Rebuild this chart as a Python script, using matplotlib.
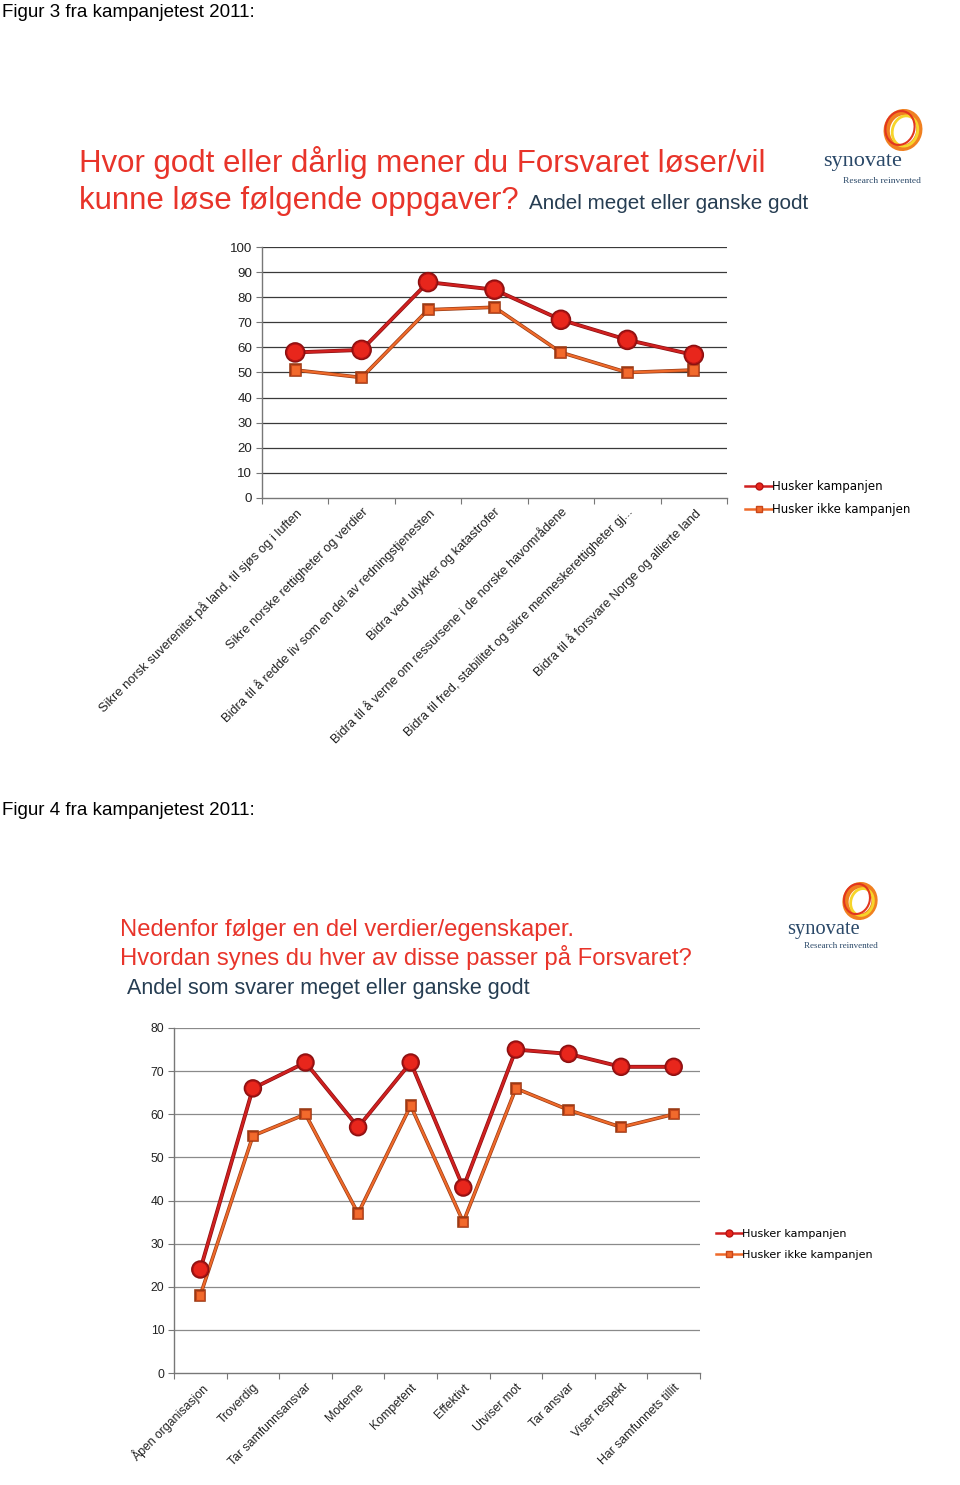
import matplotlib
matplotlib.use("Agg")
import matplotlib.pyplot as plt
from matplotlib.lines import Line2D
from matplotlib.patches import Ellipse
import matplotlib.patheffects as pe
import numpy as np

plt.rcParams['font.family'] = ['Liberation Sans', 'DejaVu Sans']

# ---------------- data ----------------
cats1 = [
    "Sikre norsk suverenitet på land, til sjøs og i luften",
    "Sikre norske rettigheter og verdier",
    "Bidra til å redde liv som en del av redningstjenesten",
    "Bidra ved ulykker og katastrofer",
    "Bidra til å verne om ressursene i de norske havområdene",
    "Bidra til fred, stabilitet og sikre menneskerettigheter gj...",
    "Bidra til å forsvare Norge og allierte land",
]
husker1 = [58, 59, 86, 83, 71, 63, 57]
ikke1 = [51, 48, 75, 76, 58, 50, 51]
yticks1 = [0, 10, 20, 30, 40, 50, 60, 70, 80, 90, 100]

cats2 = ["Åpen organisasjon", "Troverdig", "Tar samfunnsansvar", "Moderne",
         "Kompetent", "Effektivt", "Utviser mot", "Tar ansvar",
         "Viser respekt", "Har samfunnets tillit"]
husker2 = [24, 66, 72, 57, 72, 43, 75, 74, 71, 71]
ikke2 = [18, 55, 60, 37, 62, 35, 66, 61, 57, 60]
yticks2 = [0, 10, 20, 30, 40, 50, 60, 70, 80]

series_names = ["Husker kampanjen", "Husker ikke kampanjen"]

# ---------------- style ----------------
RED_FILL = '#e8261c'
RED_EDGE = '#b81414'
RED_LINE = '#d02020'
RED_LINE_EDGE = '#8a1010'
OR_FILL = '#f26a2c'
OR_EDGE = '#c8461a'
OR_LINE = '#ef6a2a'
OR_LINE_EDGE = '#9a3a14'
TITLE_RED = '#e8342a'
SUB_BLUE = '#263d52'

W, H = 960, 1485
fig = plt.figure(figsize=(W / 100, H / 100), dpi=100)
fig.patch.set_facecolor('white')


def fx(px):
    return px / W


def fy(py):
    return 1 - py / H


def make_axes(left, top, right, bottom):
    return fig.add_axes([fx(left), fy(bottom), fx(right) - fx(left), fy(top) - fy(bottom)])


def draw_chart(ax, cats, h, k, yticks, grid_color, ms_c, ms_s, lab_fs, ytick_fs):
    x = np.arange(len(cats))
    ax.plot(x, k, color=OR_LINE, lw=1.6, marker='s', ms=ms_s, mfc=OR_FILL, mec=OR_EDGE,
            mew=0.8, zorder=3,
            path_effects=[pe.Stroke(linewidth=2.6, foreground=OR_LINE_EDGE), pe.Normal()])
    ax.plot(x, h, color=RED_LINE, lw=1.8, marker='o', ms=ms_c, mfc=RED_FILL, mec=RED_EDGE,
            mew=0.8, zorder=4,
            path_effects=[pe.Stroke(linewidth=2.8, foreground=RED_LINE_EDGE), pe.Normal()])
    ax.set_xlim(-0.5, len(cats) - 0.5)
    ax.set_ylim(yticks[0], yticks[-1])
    ax.set_yticks(yticks)
    ax.set_yticklabels([str(v) for v in yticks], fontsize=ytick_fs, color='#222222')
    for v in yticks[1:]:
        ax.axhline(v, color=grid_color, lw=0.9, zorder=1)
    ax.set_xticks(x)
    ax.set_xticklabels(cats, rotation=45, ha='right', rotation_mode='anchor',
                       fontsize=lab_fs, color='#222222')
    ax.set_xticks(np.arange(len(cats) + 1) - 0.5, minor=True)
    ax.tick_params(axis='x', which='major', length=0, pad=6)
    ax.tick_params(axis='x', which='minor', length=4, color='#777777', width=0.8)
    ax.tick_params(axis='y', length=4, color='#777777', width=0.8, pad=3)
    for s in ['top', 'right']:
        ax.spines[s].set_visible(False)
    for s in ['left', 'bottom']:
        ax.spines[s].set_color('#777777')
        ax.spines[s].set_linewidth(1.0)
    ax.set_facecolor('none')


def legend(x_px, y_px, fs, spacing):
    handles = [
        Line2D([], [], color=RED_LINE, lw=1.8, marker='o', ms=5, mfc=RED_FILL, mec=RED_EDGE),
        Line2D([], [], color=OR_LINE, lw=1.8, marker='s', ms=5, mfc=OR_FILL, mec=OR_EDGE),
    ]
    fig.legend(handles, series_names, loc='upper left', bbox_to_anchor=(fx(x_px), fy(y_px)),
               frameon=False, handlelength=2.3, handletextpad=0.0,
               labelspacing=spacing, borderaxespad=0, borderpad=0,
               prop={'family': 'DejaVu Sans', 'size': fs})


def logo(cx, cy, r, tx, ty, fs1, rx, ry, fs2):
    tr = fig.dpi_scale_trans
    cxi, cyi = cx / 100, (H - cy) / 100
    fig.add_artist(Ellipse((cxi, cyi), 2 * r / 100 * 0.9, 2 * r / 100, angle=-15,
                           fill=False, ec='#f08020', lw=4.5, transform=tr))
    fig.add_artist(Ellipse((cxi + 0.02, cyi - 0.01), 2 * r / 100 * 0.7, 2 * r / 100 * 0.85,
                           angle=-15, fill=False, ec='#f6d52a', lw=2.0, transform=tr))
    fig.add_artist(Ellipse((cxi - 0.03, cyi + 0.02), 2 * r / 100 * 0.8, 2 * r / 100 * 0.95,
                           angle=-15, fill=False, ec='#e2361e', lw=1.5, transform=tr))
    fig.text(fx(tx), fy(ty), "synovate", fontsize=fs1, family='Liberation Serif',
             color='#2a4868', ha='left', va='baseline')
    fig.text(fx(rx), fy(ry), "Research reinvented", fontsize=fs2, family='Liberation Serif',
             color='#2a4868', ha='left', va='baseline')


# ---------------- Figure 3 ----------------
fig.text(fx(2), fy(17), "Figur 3 fra kampanjetest 2011:", fontsize=13.5, color='black',
         ha='left', va='baseline')
fig.text(fx(79), fy(172), "Hvor godt eller dårlig mener du Forsvaret løser/vil",
         fontsize=22.5, color=TITLE_RED, ha='left', va='baseline')
fig.text(fx(79), fy(209), "kunne løse følgende oppgaver?", fontsize=22.5, color=TITLE_RED,
         ha='left', va='baseline')
fig.text(fx(529), fy(209), "Andel meget eller ganske godt", fontsize=14.9, color=SUB_BLUE,
         ha='left', va='baseline')
logo(903, 130, 18, 823, 166, 16, 843, 183, 6.8)

ax1 = make_axes(262, 247, 727, 498)
draw_chart(ax1, cats1, husker1, ikke1, yticks1, '#3a3a3a', 12, 6.5, 9.3, 9.6)
legend(745, 480, 8.5, 0.85)

# ---------------- Figure 4 ----------------
fig.text(fx(2), fy(815), "Figur 4 fra kampanjetest 2011:", fontsize=13.5, color='black',
         ha='left', va='baseline')
fig.text(fx(120), fy(936), "Nedenfor følger en del verdier/egenskaper.", fontsize=17.2,
         color=TITLE_RED, ha='left', va='baseline')
fig.text(fx(120), fy(965), "Hvordan synes du hver av disse passer på Forsvaret?", fontsize=17.2,
         color=TITLE_RED, ha='left', va='baseline')
fig.text(fx(127), fy(994), "Andel som svarer meget eller ganske godt", fontsize=15.5,
         color=SUB_BLUE, ha='left', va='baseline')
logo(860, 901, 16, 787, 934, 14.7, 804, 948, 6.5)

ax2 = make_axes(174, 1028, 700, 1373)
draw_chart(ax2, cats2, husker2, ikke2, yticks2, '#8a8a8a', 10.5, 6, 8.8, 8.7)
legend(716, 1229, 8, 0.95)

fig.savefig("out.png", dpi=100, facecolor='white')
